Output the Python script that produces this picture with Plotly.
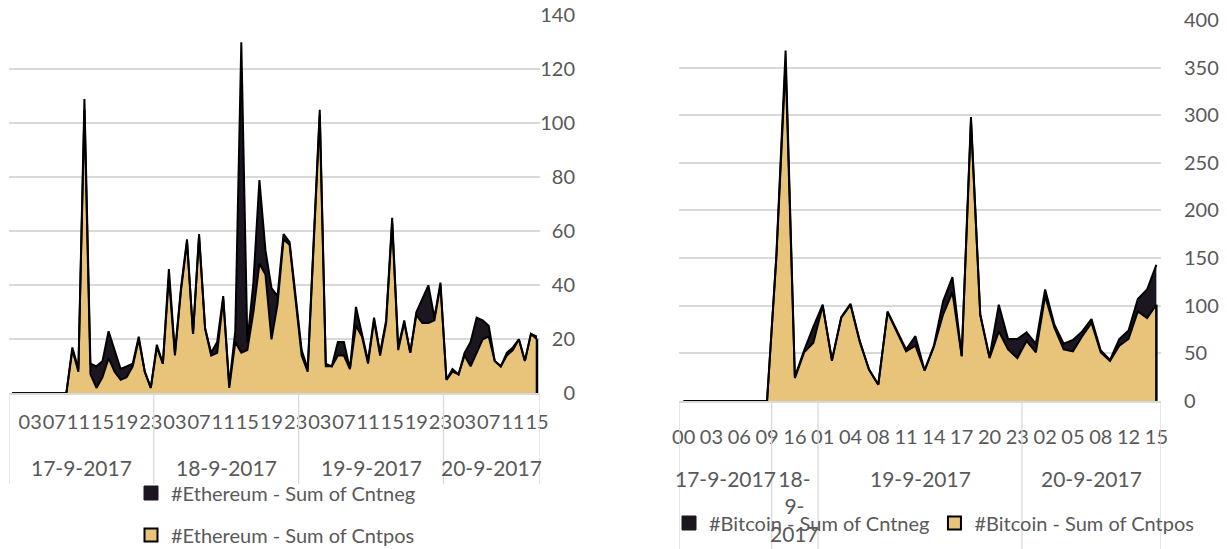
import plotly.graph_objects as go

# ---------------- data ----------------
eth_dates = ["17-9-2017", "18-9-2017", "19-9-2017", "20-9-2017"]
eth_hours = [list(range(24)), list(range(24)), list(range(24)), list(range(16))]
eth_pos = [0] * 10 + [16, 8, 105, 7, 2, 6, 13, 8, 5, 6, 10, 20, 8, 2, 17, 11, 43, 14, 38, 56,
                      22, 58, 24, 14, 15, 35, 2, 19, 15, 16, 30, 48, 44, 20, 33, 57, 55, 35, 14, 8,
                      55, 103, 10, 10, 14, 14, 9, 25, 21, 11, 27, 14, 26, 63, 16, 26, 15, 29, 26, 26,
                      27, 40, 5, 8, 7, 14, 10, 15, 20, 21, 12, 10, 14, 16, 20, 12, 22, 20]
eth_neg = [0] * 10 + [1, 1, 4, 4, 8, 6, 10, 8, 4, 4, 1, 1, 0, 0, 1, 0, 3, 1, 1, 1,
                      0, 1, 0, 1, 4, 1, 1, 4, 115, 3, 11, 31, 9, 19, 3, 2, 1, 1, 2, 1,
                      1, 2, 1, 0, 5, 5, 0, 7, 1, 1, 1, 1, 1, 2, 1, 1, 0, 1, 9, 14,
                      1, 1, 0, 1, 0, 1, 9, 13, 7, 4, 0, 0, 1, 1, 0, 0, 0, 1]

btc_dates = ["17-9-2017", "18-9-2017", "19-9-2017", "20-9-2017"]
btc_hours = [list(range(10)),
             [14, 15, 16, 17, 18],
             [1, 2, 3, 4, 6, 7, 8, 9, 10, 11, 12, 13, 14, 15, 16, 17, 18, 19, 20, 21, 22, 23],
             [0, 1, 2, 3, 4, 5, 6, 7, 8, 10, 11, 12, 13, 14, 15]]
btc_pos = [0] * 10 + [150, 355, 24, 51, 61, 100, 42, 87, 101, 62, 33, 17, 93, 72, 52, 58, 32, 57,
                      91, 114, 47, 294, 90, 45, 73, 54, 45, 63, 51, 110, 77, 54, 52, 68, 82, 51,
                      42, 58, 65, 94, 87, 101]
btc_neg = [0] * 10 + [2, 13, 1, 2, 17, 1, 1, 1, 1, 1, 0, 0, 1, 2, 2, 10, 0, 1,
                      14, 16, 0, 4, 1, 1, 28, 11, 20, 9, 9, 7, 3, 6, 12, 5, 4, 2,
                      1, 7, 9, 13, 30, 42]

# ---------------- style ----------------
PAGE_W, PAGE_H = 1227, 549
OFF = 8                      # default body margin of the html page
W, H = PAGE_W - OFF, PAGE_H - OFF
FONT = "Lato"
TXT = "#595959"
GRID = "#d9d9d9"
POS_FILL = "#E8C47B"
NEG_FILL = "#1C1620"
EDGE = "#000000"


def px_x(p):
    return (p - OFF) / W


def px_y(p):
    return 1 - (p - OFF) / H


def flatten(dates, hours):
    cats, bounds = [], []
    for d, hs in zip(dates, hours):
        start = len(cats)
        for h in hs:
            cats.append((d, h))
        bounds.append((start, len(cats) - 1))
    return cats, bounds


fig = go.Figure()
shapes, annotations = [], []


def add_panel(xa, ya, cats, bounds, pos, neg, name, step, first, legend_neg, legend_pos,
              date_y, div_span, wrap_narrow):
    xs = list(range(len(cats)))
    fig.add_trace(go.Scatter(x=xs, y=pos, stackgroup=name, mode="lines",
                             line=dict(color=EDGE, width=2), fillcolor=POS_FILL,
                             xaxis=xa, yaxis=ya, showlegend=False, hoverinfo="skip"))
    fig.add_trace(go.Scatter(x=xs, y=neg, stackgroup=name, mode="lines",
                             line=dict(color=EDGE, width=2), fillcolor=NEG_FILL,
                             xaxis=xa, yaxis=ya, showlegend=False, hoverinfo="skip"))
    # closing edge of the area at the last category
    fig.add_trace(go.Scatter(x=[xs[-1], xs[-1]], y=[0, pos[-1]], mode="lines",
                             line=dict(color=EDGE, width=2.5), xaxis=xa, yaxis=ya,
                             showlegend=False, hoverinfo="skip"))
    # legend entries
    fig.add_trace(go.Scatter(x=[None], y=[None], mode="markers", name=f"#{name} - Sum of Cntneg",
                             marker=dict(symbol="square", size=14, color=NEG_FILL,
                                         line=dict(color=NEG_FILL, width=1)),
                             xaxis=xa, yaxis=ya, legend=legend_neg))
    fig.add_trace(go.Scatter(x=[None], y=[None], mode="markers", name=f"#{name} - Sum of Cntpos",
                             marker=dict(symbol="square", size=13, color=POS_FILL,
                                         line=dict(color=EDGE, width=2)),
                             xaxis=xa, yaxis=ya, legend=legend_pos))
    # date group labels and dividers
    edges = [-0.5] + [b[1] + 0.5 for b in bounds]
    for e in edges:
        shapes.append(dict(type="line", xref=xa, yref="paper", x0=e, x1=e,
                           y0=div_span[0], y1=div_span[1],
                           line=dict(color=GRID, width=1.3)))
    for (s, e) in bounds:
        d = cats[s][0]
        n = e - s + 1
        text = d.replace("-", "-<br>") if (wrap_narrow and n < 7) else d
        annotations.append(dict(x=(s + e) / 2, y=date_y, xref=xa, yref="paper",
                                text=text, showarrow=False, yanchor="top",
                                font=dict(family=FONT, size=21, color=TXT)))
    tickvals = [i for i in xs if i >= first and (i - first) % step == 0]
    ticktext = [f"{cats[i][1]:02d}" for i in tickvals]
    return tickvals, ticktext


eth_cats, eth_bounds = flatten(eth_dates, eth_hours)
btc_cats, btc_bounds = flatten(btc_dates, btc_hours)

eth_tv, eth_tt = add_panel("x", "y", eth_cats, eth_bounds, eth_pos, eth_neg, "Ethereum", 4, 3,
                           "legend", "legend2", px_y(453), (px_y(393.3), px_y(484)), False)
btc_tv, btc_tt = add_panel("x2", "y2", btc_cats, btc_bounds, btc_pos, btc_neg, "Bitcoin", 3, 0,
                           "legend3", "legend3", px_y(464), (px_y(400.9), 0), True)

tickfont = dict(family=FONT, size=20, color=TXT)

fig.update_layout(
    width=W, height=H,
    margin=dict(l=0, r=0, t=0, b=0, pad=0, autoexpand=False),
    paper_bgcolor="white", plot_bgcolor="white",
    font=dict(family=FONT, color=TXT),
    showlegend=True,
    xaxis=dict(domain=[px_x(9), px_x(540)], range=[-0.5, len(eth_cats) - 0.5],
               tickmode="array", tickvals=eth_tv, ticktext=eth_tt, tickangle=0,
               tickfont=tickfont, ticks="", showgrid=False, zeroline=False,
               showline=True, linecolor=GRID, linewidth=1.5, ticklabelstandoff=10,
               anchor="y", fixedrange=True, automargin=False),
    yaxis=dict(domain=[px_y(393.3), px_y(15.3)], range=[0, 140], dtick=20, side="left",
               anchor="free", position=px_x(575), ticklabeloverflow="allow",
               tickfont=tickfont, showgrid=True, gridcolor=GRID, gridwidth=1.5,
               zeroline=False, showline=False, ticks="", ticklabelstandoff=0,
               fixedrange=True, automargin=False),
    xaxis2=dict(domain=[px_x(679), px_x(1161)], range=[-0.5, len(btc_cats) - 0.5],
                tickmode="array", tickvals=btc_tv, ticktext=btc_tt, tickangle=0,
                tickfont=tickfont, ticks="", showgrid=False, zeroline=False,
                showline=True, linecolor=GRID, linewidth=1.5, ticklabelstandoff=17,
                anchor="y2", fixedrange=True, automargin=False),
    yaxis2=dict(domain=[px_y(400.9), px_y(20)], range=[0, 400], dtick=50, side="right",
                ticklabeloverflow="allow",
                tickfont=tickfont, showgrid=True, gridcolor=GRID, gridwidth=1.5,
                zeroline=False, showline=False, ticks="", ticklabelstandoff=22,
                anchor="x2", fixedrange=True, automargin=False),
    legend=dict(x=px_x(131), y=px_y(493), xanchor="left", yanchor="middle",
                font=dict(family=FONT, size=20, color=TXT), bgcolor="rgba(0,0,0,0)"),
    legend2=dict(x=px_x(131), y=px_y(535), xanchor="left", yanchor="middle",
                 font=dict(family=FONT, size=20, color=TXT), bgcolor="rgba(0,0,0,0)"),
    legend3=dict(x=px_x(669), y=px_y(523), xanchor="left", yanchor="middle",
                 orientation="h", font=dict(family=FONT, size=20, color=TXT),
                 bgcolor="rgba(0,0,0,0)"),
    shapes=shapes, annotations=annotations,
)

fig.write_html("out.html")
